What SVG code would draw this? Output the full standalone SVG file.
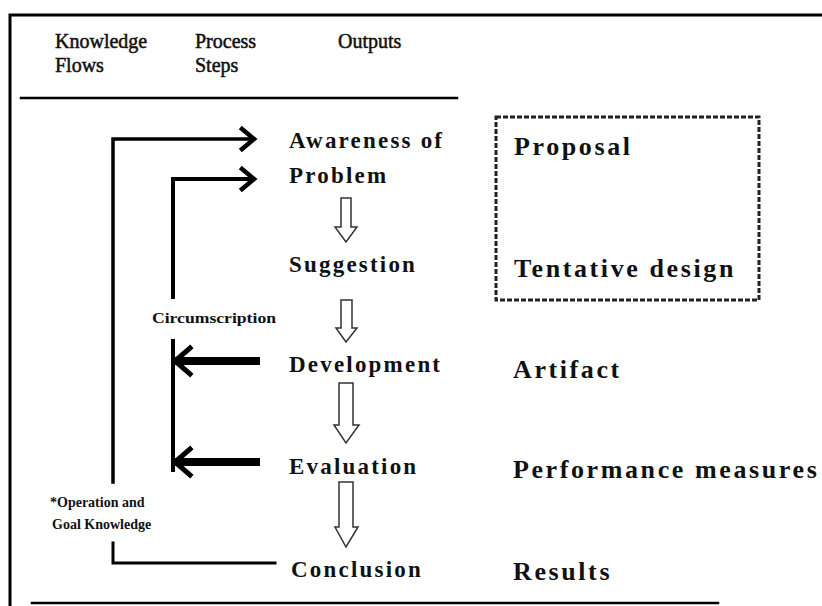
<svg xmlns="http://www.w3.org/2000/svg" width="822" height="606" viewBox="0 0 822 606">
<style>
.hdr{font-family:"Liberation Serif","Times New Roman",serif;font-size:20px;fill:#111;stroke:#111;stroke-width:0.5}
.step{font-family:"Liberation Serif","Times New Roman",serif;font-size:23px;font-weight:bold;letter-spacing:2.2px;fill:#111}
.out{font-family:"Liberation Serif","Times New Roman",serif;font-size:26px;font-weight:bold;letter-spacing:2.6px;fill:#111}
.small{font-family:"Liberation Serif","Times New Roman",serif;font-size:14px;font-weight:bold;fill:#111}
.ln{fill:none;stroke:#000;stroke-linecap:square}
.hollow{fill:#fff;stroke:#333;stroke-width:1.5;stroke-linejoin:miter}
</style>
<rect width="822" height="606" fill="#fff"/>
<g id="frame">
<path class="ln" d="M10,606 V15 H822" stroke-width="3"/>
<line class="ln" x1="21" y1="98" x2="457" y2="98" stroke-width="2.5" stroke="#222"/>
<line class="ln" x1="32" y1="603" x2="718" y2="603" stroke-width="2.5" stroke="#222"/>
</g>
<g id="headers">
<text class="hdr" x="55" y="48">Knowledge</text>
<text class="hdr" x="55" y="72">Flows</text>
<text class="hdr" x="195" y="48">Process</text>
<text class="hdr" x="195" y="72">Steps</text>
<text class="hdr" x="338" y="48">Outputs</text>
</g>
<g id="step-awareness"><text class="step" x="289" y="148">Awareness of</text><text class="step" x="289" y="183">Problem</text></g>
<g id="step-suggestion"><text class="step" x="289" y="272">Suggestion</text></g>
<g id="step-development"><text class="step" x="289" y="372">Development</text></g>
<g id="step-evaluation"><text class="step" x="289" y="474">Evaluation</text></g>
<g id="step-conclusion"><text class="step" x="291" y="577">Conclusion</text></g>
<g id="output-box">
<rect x="496" y="117" width="263" height="183" fill="none" stroke="#222" stroke-width="3" stroke-dasharray="5,2"/>
<text class="out" x="514" y="155">Proposal</text>
<text class="out" x="514" y="277">Tentative design</text>
</g>
<g id="output-artifact"><text class="out" x="513" y="378">Artifact</text></g>
<g id="output-performance"><text class="out" x="513" y="478">Performance measures</text></g>
<g id="output-results"><text class="out" x="513" y="580">Results</text></g>
<g id="label-circumscription"><text class="small" x="152" y="323" textLength="124" lengthAdjust="spacingAndGlyphs">Circumscription</text></g>
<g id="label-operation"><text class="small" x="50" y="507">*Operation and</text><text class="small" x="52" y="529">Goal Knowledge</text></g>
<g id="connectors">
<path class="ln" d="M113,482 V139 H252" stroke-width="3.5"/>
<path class="ln" d="M242,129 L254,139 L242,149" stroke-width="4.5" stroke-linecap="butt"/>
<path class="ln" d="M113,543 V563 H275" stroke-width="3"/>
<path class="ln" d="M173,297 V179 H252" stroke-width="4"/>
<path class="ln" d="M242,169 L254,179 L242,189" stroke-width="4.5" stroke-linecap="butt"/>
<line class="ln" x1="173" y1="341" x2="173" y2="470" stroke-width="4"/>
<line class="ln" x1="176" y1="361" x2="256" y2="361" stroke-width="8" stroke-linecap="butt"/>
<path class="ln" d="M190,348 L175,361 L190,374" stroke-width="5" stroke-linecap="butt"/>
<line class="ln" x1="176" y1="462" x2="256" y2="462" stroke-width="8" stroke-linecap="butt"/>
<path class="ln" d="M190,449 L175,462 L190,475" stroke-width="5" stroke-linecap="butt"/>
<path class="hollow" d="M341,198 H351 V227 H357 L346,242 L335,227 H341 Z"/>
<path class="hollow" d="M341,300 H352 V328 H357 L346,342 L336,328 H341 Z"/>
<path class="hollow" d="M339,383 H353 V425 H359 L346,443 L334,425 H339 Z"/>
<path class="hollow" d="M339,482 H353 V527 H358 L346,547 L335,527 H339 Z"/>
</g>
</svg>
